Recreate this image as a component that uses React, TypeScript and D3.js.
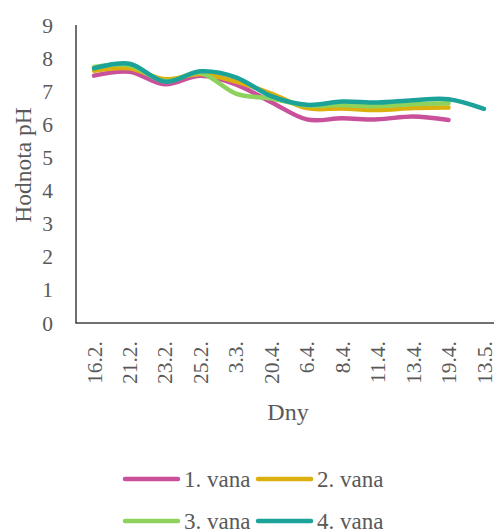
import React from "react";
import * as d3 from "d3";

const categories = ["16.2.", "21.2.", "23.2.", "25.2.", "3.3.", "20.4.", "6.4.", "8.4.", "11.4.", "13.4.", "19.4.", "13.5."];
const vana1 = [7.47, 7.59, 7.21, 7.47, 7.21, 6.67, 6.15, 6.18, 6.15, 6.24, 6.13];
const vana2 = [7.62, 7.69, 7.36, 7.52, 7.29, 6.93, 6.49, 6.48, 6.43, 6.49, 6.51];
const vana3 = [7.73, 7.78, 7.3, 7.55, 6.93, 6.78, 6.57, 6.58, 6.55, 6.61, 6.64];
const vana4 = [7.69, 7.83, 7.29, 7.6, 7.42, 6.85, 6.59, 6.69, 6.66, 6.73, 6.76, 6.47];
const seriesNames = ["1. vana", "2. vana", "3. vana", "4. vana"];
const yTicks = [0, 1, 2, 3, 4, 5, 6, 7, 8, 9];

const colors = ["#C9509A", "#DBAF0E", "#8ED25E", "#1BA39A"];
const W = 494, H = 531;
const font = "'Liberation Serif', 'Times New Roman', serif";
const textColor = "#595959";

export default function App() {
  const x = d3.scaleBand<string>().domain(categories).range([76.3, 501.7]).padding(0);
  const y = d3.scaleLinear().domain([0, 9]).range([323, 25]);
  const cx = (c: string) => (x(c) as number) + x.bandwidth() / 2;
  const all = [vana1, vana2, vana3, vana4];
  const line = d3
    .line<number>()
    .x((_, i) => cx(categories[i]))
    .y((d) => y(d))
    .curve(d3.curveCatmullRom.alpha(0));

  const legendItems = [
    { x: 125, y: 479 },
    { x: 258, y: 479 },
    { x: 125, y: 521 },
    { x: 258, y: 521 },
  ];

  return (
    <svg
      width={W}
      height={H}
      style={{ position: "absolute", left: 0, top: 0, background: "#fff" }}
      fontFamily={font}
    >
      <rect x={0} y={0} width={W} height={H} fill="#fff" />
      {/* axes */}
      <line x1={76} x2={76} y1={y(9)} y2={y(0)} stroke="#404040" strokeWidth={1.5} />
      <line x1={75.3} x2={W} y1={y(0)} y2={y(0)} stroke="#404040" strokeWidth={1.5} />
      {yTicks.map((t) => (
        <text key={t} x={53} y={y(t)} dy="0.35em" textAnchor="end" fontSize={21.5} fill={textColor}>
          {t}
        </text>
      ))}
      {categories.map((c) => (
        <text
          key={c}
          transform={`translate(${cx(c)},${341}) rotate(-90)`}
          dy="0.35em"
          textAnchor="end"
          fontSize={21.5}
          fill={textColor}
        >
          {c}
        </text>
      ))}
      <text
        transform={`translate(23,165) rotate(-90)`}
        dy="0.35em"
        textAnchor="middle"
        fontSize={23.5}
        fill={textColor}
      >
        Hodnota pH
      </text>
      <text x={288} y={420} textAnchor="middle" fontSize={24} fill={textColor}>
        Dny
      </text>
      {all.map((s, i) => (
        <path
          key={i}
          d={line(s) || ""}
          fill="none"
          stroke={colors[i]}
          strokeWidth={4.5}
          strokeLinecap="round"
          strokeLinejoin="round"
        />
      ))}
      {seriesNames.map((n, i) => (
        <g key={n}>
          <line
            x1={legendItems[i].x}
            x2={legendItems[i].x + 53}
            y1={legendItems[i].y}
            y2={legendItems[i].y}
            stroke={colors[i]}
            strokeWidth={4.5}
            strokeLinecap="round"
          />
          <text
            x={legendItems[i].x + 59}
            y={legendItems[i].y}
            dy="0.35em"
            fontSize={23}
            fill={textColor}
          >
            {n}
          </text>
        </g>
      ))}
    </svg>
  );
}
